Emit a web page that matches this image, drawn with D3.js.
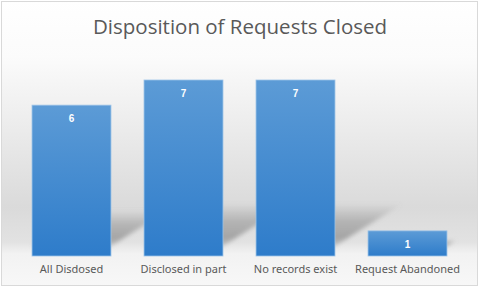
<!DOCTYPE html>
<html>
<head>
<meta charset="utf-8">
<script src="https://cdn.jsdelivr.net/npm/d3@7"></script>
<style>
  body { margin: 0; background: #fff; }
  svg { display: block; }
</style>
</head>
<body>
<svg id="chart"></svg>
<script>
const categories = ["All Disdosed", "Disclosed in part", "No records exist", "Request Abandoned"];
const values = [6, 7, 7, 1];
const title = "Disposition of Requests Closed";

const width = 480;
const height = 288;
const baseY = 256;

let svg = d3.select("#chart")
    .attr("width", width)
    .attr("height", height);

let defs = svg.append("defs");

// background gradient of the chart area
let bg = defs.append("linearGradient")
    .attr("id", "bg")
    .attr("gradientUnits", "userSpaceOnUse")
    .attr("x1", 0).attr("y1", 0).attr("x2", 0).attr("y2", height);
bg.append("stop").attr("offset", 0).attr("stop-color", "#ffffff");
bg.append("stop").attr("offset", 0.2).attr("stop-color", "#fbfbfb");
bg.append("stop").attr("offset", 0.72).attr("stop-color", "#dadada");
bg.append("stop").attr("offset", 0.84).attr("stop-color", "#e2e2e2");
bg.append("stop").attr("offset", 0.88).attr("stop-color", "#f2f2f2");
bg.append("stop").attr("offset", 1).attr("stop-color", "#f8f8f8");

let barGrad = defs.append("linearGradient")
    .attr("id", "barGrad")
    .attr("x1", 0).attr("y1", 0).attr("x2", 0).attr("y2", 1);
barGrad.append("stop").attr("offset", 0).attr("stop-color", "#5c9bd6");
barGrad.append("stop").attr("offset", 1).attr("stop-color", "#2e7cca");

let shGrad = defs.append("linearGradient")
    .attr("id", "shGrad")
    .attr("x1", 0).attr("y1", 0).attr("x2", 0).attr("y2", 1);
shGrad.append("stop").attr("offset", 0).attr("stop-color", "#9a9a9a").attr("stop-opacity", 0);
shGrad.append("stop").attr("offset", 0.4).attr("stop-color", "#9a9a9a").attr("stop-opacity", 0.6);
shGrad.append("stop").attr("offset", 0.8).attr("stop-color", "#9a9a9a").attr("stop-opacity", 0.85);
shGrad.append("stop").attr("offset", 1).attr("stop-color", "#a0a0a0").attr("stop-opacity", 0.5);

defs.append("filter")
    .attr("id", "blur")
    .attr("x", "-20%").attr("y", "-20%").attr("width", "140%").attr("height", "140%")
    .append("feGaussianBlur").attr("stdDeviation", 2);

svg.append("rect")
    .attr("x", 1.5).attr("y", 1.5)
    .attr("width", 476).attr("height", 284)
    .attr("fill", "url(#bg)")
    .attr("stroke", "#d9d9d9")
    .attr("stroke-width", 1);

let x = d3.scaleBand()
    .domain(categories)
    .range([15.5, 463.5])
    .paddingInner(0.295)
    .paddingOuter(0.1475);

let y = d3.scaleLinear()
    .domain([0, 7])
    .range([baseY, 80]);

// perspective shadows behind bars
svg.append("g")
    .attr("filter", "url(#blur)")
    .selectAll("path")
    .data(categories)
    .join("path")
    .attr("d", (d, i) => {
        let h = (baseY - y(values[i])) * 0.24;
        let skew = h * 1.6;
        let b = baseY - 10;
        let x0 = x(d), x1 = x(d) + x.bandwidth();
        return `M${x0},${b}L${x1},${b}L${x1 + skew},${b - h}L${x0 + skew},${b - h}Z`;
    })
    .attr("fill", "url(#shGrad)");

svg.append("g")
    .selectAll("rect")
    .data(categories)
    .join("rect")
    .attr("x", d => x(d))
    .attr("y", (d, i) => y(values[i]))
    .attr("width", x.bandwidth())
    .attr("height", (d, i) => baseY - y(values[i]))
    .attr("fill", "url(#barGrad)")
    .attr("stroke", "#9cc3e8")
    .attr("stroke-width", 0.8);

svg.append("g")
    .selectAll("text")
    .data(categories)
    .join("text")
    .attr("x", d => x(d) + x.bandwidth() / 2)
    .attr("y", (d, i) => y(values[i]) + 17)
    .attr("text-anchor", "middle")
    .attr("fill", "#ffffff")
    .attr("font-family", "Liberation Sans, Arial, sans-serif")
    .attr("font-weight", "bold")
    .attr("font-size", 10)
    .text((d, i) => values[i]);

let axisX = d3.axisBottom(x).tickSize(0).tickPadding(9);
let gx = svg.append("g")
    .attr("transform", `translate(0, ${baseY})`)
    .call(axisX);
gx.select(".domain").remove();
gx.selectAll("text")
    .attr("fill", "#595959")
    .attr("font-family", "Noto Sans, sans-serif")
    .attr("font-size", 11);

svg.append("text")
    .attr("x", 240)
    .attr("y", 34)
    .attr("text-anchor", "middle")
    .attr("fill", "#595959")
    .attr("font-family", "Open Sans, sans-serif")
    .attr("font-size", 20.5)
    .text(title);
</script>
</body>
</html>
